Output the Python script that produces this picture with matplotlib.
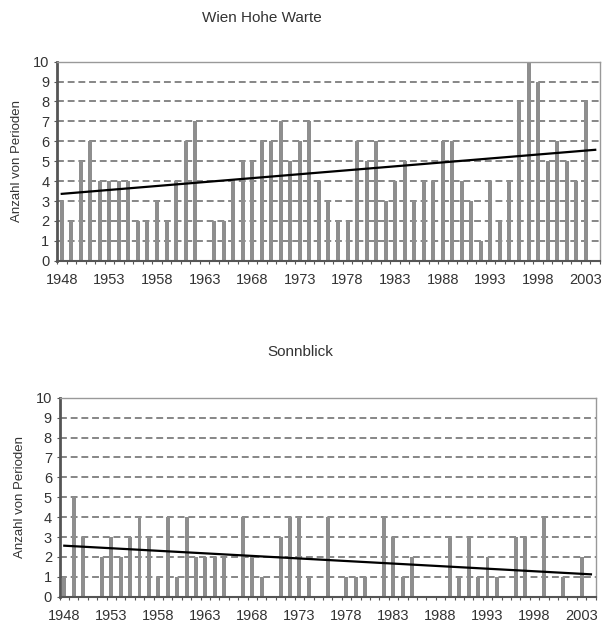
import numpy as np
import matplotlib.pyplot as plt
from matplotlib.ticker import MultipleLocator, FixedLocator

plt.rcParams['font.family'] = ['Liberation Sans', 'DejaVu Sans']

years = list(range(1948, 2004))
n_slots = 57  # axis runs through 2004, which has no value

wien = [3, 2, 5, 6, 4, 4, 4, 4, 2, 2, 3, 2, 4, 6, 7, 0, 2, 2, 4, 5,
        5, 6, 6, 7, 5, 6, 7, 4, 3, 2, 2, 6, 5, 6, 3, 4, 5, 3, 4, 4,
        6, 6, 4, 3, 1, 4, 2, 4, 8, 10, 9, 5, 6, 5, 4, 8]

sonnblick = [1, 5, 3, 0, 2, 3, 2, 3, 4, 3, 1, 4, 1, 4, 2, 2, 2, 2, 0, 4,
             2, 1, 0, 3, 4, 4, 1, 0, 4, 0, 1, 1, 1, 0, 4, 3, 1, 2, 0, 0,
             0, 3, 1, 3, 1, 2, 1, 0, 3, 3, 0, 4, 0, 1, 0, 2]

label_years = list(range(1948, 2004, 5))

text_col = '#333333'
bar_col = '#8e8e8e'


def panel(ax, values, title, title_xy):
    x = np.arange(len(values))
    ax.bar(x, values, width=0.42, color=bar_col, zorder=2)

    # linear trend, extended one year past the data
    k, d = np.polyfit(x, values, 1)
    xt = np.array([0, n_slots - 1])
    ax.plot(xt, k * xt + d, color='black', lw=1.6, zorder=3)

    ax.set_xlim(-0.5, n_slots - 0.5)
    ax.set_ylim(0, 10)
    ax.yaxis.set_major_locator(MultipleLocator(1))
    for yv in range(1, 10):
        ax.axhline(yv, color='#666666', lw=1.1, ls=(0, (4.5, 2.5)), zorder=1)

    ax.xaxis.set_major_locator(FixedLocator([y - 1948 for y in label_years]))
    ax.set_xticklabels([str(y) for y in label_years])
    ax.xaxis.set_minor_locator(FixedLocator(np.arange(-0.5, n_slots, 1)))
    ax.tick_params(axis='x', which='major', length=0, pad=9,
                   labelsize=10.5, labelcolor=text_col)
    ax.tick_params(axis='x', which='minor', length=2.5, width=0.8,
                   color='#555555', direction='out')
    ax.tick_params(axis='y', length=2.5, width=0.8, color='#555555',
                   pad=3, labelsize=10.5, labelcolor=text_col)

    ax.spines['left'].set_color('#555555')
    ax.spines['left'].set_linewidth(2.0)
    ax.spines['bottom'].set_color('#555555')
    ax.spines['bottom'].set_linewidth(1.5)
    for s in ('top', 'right'):
        ax.spines[s].set_color('#999999')
        ax.spines[s].set_linewidth(1.0)

    ax.set_ylabel('Anzahl von Perioden', fontsize=9.5, color=text_col,
                  labelpad=7)
    fig.text(title_xy[0], title_xy[1], title, ha='center', va='center',
             fontsize=11, color=text_col)


fig = plt.figure(figsize=(6.03, 6.27), dpi=100)

ax1 = fig.add_axes([0.0945, 0.5842, 0.9005, 0.3174])
panel(ax1, wien, 'Wien Hohe Warte', (262 / 603, 1 - 18 / 627))

ax2 = fig.add_axes([0.0988, 0.0483, 0.889, 0.3174])
panel(ax2, sonnblick, 'Sonnblick', (300 / 603, 1 - 352 / 627))

fig.savefig('out.png', dpi=100)
